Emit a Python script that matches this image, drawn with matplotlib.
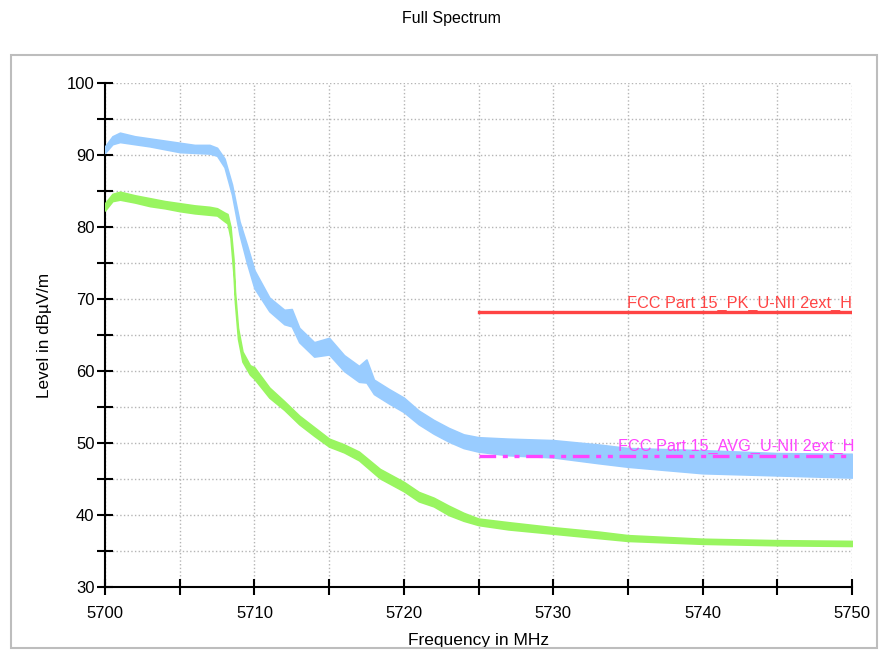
import matplotlib
matplotlib.use("Agg")
import matplotlib.pyplot as plt
from matplotlib.patches import Rectangle
from matplotlib.ticker import MultipleLocator

plt.rcParams['font.family'] = ['Liberation Sans', 'DejaVu Sans']

# peak trace (blue): lower / upper edge of the noise band
blue_freq = [5700, 5700.5, 5701, 5702, 5703, 5704, 5705, 5706, 5707, 5707.5,
             5708, 5708.5, 5709, 5709.5, 5710, 5711, 5712, 5712.5, 5713, 5714,
             5715, 5716, 5717, 5717.5, 5718, 5719, 5720, 5721, 5722, 5723,
             5724, 5725, 5727, 5730, 5733, 5735, 5740, 5745, 5750]
blue_lo = [90.3, 91.5, 91.8, 91.5, 91.2, 90.8, 90.4, 90.3, 90.2, 89.9,
           88.3, 84.5, 79.0, 75.0, 71.5, 68.3, 66.5, 66.2, 64.0, 62.0,
           62.3, 60.0, 58.5, 58.4, 56.8, 55.5, 54.3, 52.6, 51.3, 50.2,
           49.3, 48.8, 48.3, 48.0, 47.2, 46.7, 45.8, 45.5, 45.2]
blue_hi = [91.2, 92.6, 93.1, 92.6, 92.3, 92.0, 91.7, 91.4, 91.4, 91.0,
           89.5, 85.9, 80.8, 77.5, 74.0, 70.2, 68.5, 68.6, 66.0, 64.0,
           64.6, 62.2, 60.7, 61.6, 58.8, 57.5, 56.3, 54.5, 53.2, 52.1,
           51.2, 50.8, 50.6, 50.4, 49.8, 49.3, 49.0, 48.6, 48.5]

# average trace (green)
green_freq = [5700, 5700.5, 5701, 5702, 5703, 5704, 5705, 5706, 5707, 5707.5,
              5708, 5708.2, 5708.4, 5708.6, 5708.7, 5708.9, 5709.2, 5709.7,
              5710, 5711, 5712, 5713, 5714, 5715, 5716, 5717, 5718.4, 5720,
              5721, 5722, 5723, 5724, 5725, 5727, 5730, 5733, 5735, 5740,
              5745, 5750]
green_lo = [82.3, 83.6, 83.8, 83.4, 82.9, 82.6, 82.2, 81.9, 81.7, 81.6,
            80.8, 80.5, 78.5, 73.5, 69.5, 64.5, 61.3, 59.5,
            58.9, 56.3, 54.6, 52.6, 51.0, 49.5, 48.7, 47.6, 45.1, 43.3,
            41.9, 41.2, 40.0, 39.2, 38.6, 38.0, 37.4, 36.8, 36.4, 36.0,
            35.8, 35.7]
green_hi = [83.3, 84.6, 84.9, 84.4, 84.0, 83.6, 83.3, 83.0, 82.8, 82.6,
            82.0, 81.8, 80.0, 75.5, 71.0, 66.0, 62.7, 60.8,
            60.5, 57.7, 55.8, 53.8, 52.2, 50.6, 49.8, 48.8, 46.4, 44.6,
            43.2, 42.4, 41.3, 40.3, 39.5, 39.0, 38.3, 37.7, 37.2, 36.7,
            36.5, 36.4]

# limit lines
limit_freq = [5725, 5750]
pk_limit = 68.2
avg_limit = 48.2
pk_label = "FCC Part 15_PK_U-NII 2ext_H"
avg_label = "FCC Part 15_AVG_U-NII 2ext_H"

fig = plt.figure(figsize=(8.81, 6.51), dpi=100)
fig.patches.append(Rectangle((11 / 881, 3 / 651), 866 / 881, 593 / 651,
                             transform=fig.transFigure, fill=False,
                             edgecolor='#bdbdbd', linewidth=1.5))
fig.text(451.5 / 881, 1 - 18 / 651, "Full Spectrum", ha='center', va='center',
         fontsize=11.5)

ax = fig.add_axes([105 / 881, 64 / 651, 747 / 881, 504 / 651])

ax.fill_between(blue_freq, blue_lo, blue_hi, color='#99ccff', linewidth=1.2,
                edgecolor='#99ccff', zorder=3)
ax.fill_between(green_freq, green_lo, green_hi, color='#99f560', linewidth=1.2,
                edgecolor='#99f560', zorder=4)

ax.plot(limit_freq, [pk_limit, pk_limit], color='#ff4444', linewidth=2.4, zorder=5)
ax.plot(limit_freq, [avg_limit, avg_limit], color='#ff44ff', linewidth=2.4,
        linestyle=(0, (5, 2, 1.5, 2, 1.5, 2)), zorder=5)
ax.text(5750, pk_limit + 0.15, pk_label, color='#ff4444', ha='right', va='bottom',
        fontsize=11.7, zorder=6)
ax.text(5750.2, avg_limit + 0.3, avg_label, color='#ff44ff', ha='right', va='bottom',
        fontsize=11.7, zorder=6, clip_on=False)

ax.set_xlim(5700, 5750)
ax.set_ylim(30, 100)
ax.xaxis.set_major_locator(MultipleLocator(10))
ax.xaxis.set_minor_locator(MultipleLocator(5))
ax.yaxis.set_major_locator(MultipleLocator(10))
ax.yaxis.set_minor_locator(MultipleLocator(5))
ax.grid(True, which='both', color='#b5b5b5', linestyle=':', linewidth=1, zorder=0)
ax.set_axisbelow(True)

for side in ['top', 'right']:
    ax.spines[side].set_visible(False)
for side in ['left', 'bottom']:
    ax.spines[side].set_linewidth(1.5)

ax.tick_params(which='both', direction='inout', length=11, width=1.5,
               labelsize=12, pad=2)
ax.tick_params(axis='x', pad=8)

ax.set_xlabel("Frequency in MHz", fontsize=12.5)
ax.set_ylabel("Level in dBµV/m", fontsize=12.3)
ax.xaxis.set_label_coords(0.5, -0.092)
ax.yaxis.set_label_coords(-0.071, 0.5)

fig.savefig("out.png", dpi=100)
